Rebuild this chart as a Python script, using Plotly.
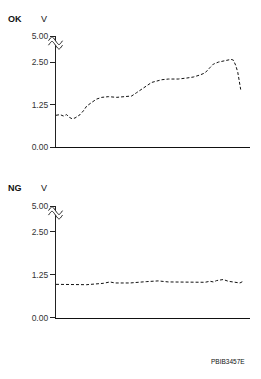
import plotly.graph_objects as go

W, H = 261, 379

# ---- data (time in % of sweep, voltage in V) ----
ok_t = [0, 2.1, 3.8, 5.5, 6.9, 8.2, 9.8, 12.4, 14.1, 15.8, 18.4, 21.0, 23.6, 27.0,
        31.3, 36.4, 39.0, 41.6, 45.0, 47.8, 49.3, 51.9, 54.5, 57.9, 63.0, 67.4,
        70.8, 74.2, 76.8, 79.4, 81.1, 83.7, 87.1, 90.2, 91.4, 92.6, 93.7, 94.3, 95.2]
ok_v = [0.94, 0.96, 0.92, 0.96, 0.88, 0.84, 0.86, 0.96, 1.07, 1.21, 1.32, 1.42, 1.47, 1.49,
        1.47, 1.49, 1.51, 1.61, 1.74, 1.84, 1.91, 1.95, 1.99, 2.01, 2.01, 2.04,
        2.07, 2.13, 2.19, 2.35, 2.45, 2.51, 2.56, 2.59, 2.57, 2.42, 2.21, 1.96, 1.70]

ng_t = [0, 15.8, 24.4, 27.8, 30.4, 38.1, 46.8, 52.7, 57.9, 66.5, 76.8, 79.4, 81.1,
        82.8, 86.2, 88.8, 91.4, 93.1, 94.8, 96.5]
ng_v = [0.97, 0.96, 1.00, 1.04, 1.01, 1.01, 1.05, 1.07, 1.04, 1.03, 1.03, 1.06, 1.04,
        1.08, 1.11, 1.06, 1.03, 1.03, 1.01, 1.06]

tick_vals_top = [0, 1.25, 2.5, 3.276]
tick_vals_bot = [0, 1.25, 2.5, 3.24]
tick_text = ["0.00", "1.25", "2.50", "5.00"]

FONT = "Liberation Sans, Arial, sans-serif"

fig = go.Figure()
line = dict(color="#111", width=1, dash="3px,2px")
fig.add_trace(go.Scatter(x=ok_t, y=ok_v, mode="lines", line=line, xaxis="x", yaxis="y",
                         showlegend=False, hoverinfo="skip"))
fig.add_trace(go.Scatter(x=ng_t, y=ng_v, mode="lines", line=line, xaxis="x2", yaxis="y2",
                         showlegend=False, hoverinfo="skip"))

x0p, x1p = 56 / W, 250 / W

def py(px):
    return 1 - px / H

xcommon = dict(range=[0, 100], showline=True, linecolor="#111", linewidth=1,
               showgrid=False, zeroline=False, showticklabels=False, ticks="",
               domain=[x0p, x1p], fixedrange=True)
ycommon = dict(showline=True, linecolor="#222", linewidth=1.2, showgrid=False,
               zeroline=False, ticks="outside", ticklen=5, tickcolor="#222",
               tickwidth=1, ticktext=tick_text, tickmode="array",
               tickfont=dict(family=FONT, size=8.5, color="#333"),
               fixedrange=True)

fig.update_layout(
    width=W, height=H, margin=dict(l=0, r=0, t=0, b=0),
    paper_bgcolor="white", plot_bgcolor="white",
    xaxis=dict(**xcommon, anchor="y"),
    yaxis=dict(**ycommon, range=[0, 3.276], tickvals=tick_vals_top,
               domain=[py(146), py(32)], anchor="x"),
    xaxis2=dict(**xcommon, anchor="y2"),
    yaxis2=dict(**ycommon, range=[0, 3.24], tickvals=tick_vals_bot,
                domain=[py(321.2), py(206.7)], anchor="x2"),
)

def label(text, x, y, size, bold=False):
    fig.add_annotation(text=f"<b>{text}</b>" if bold else text, x=x / W, y=py(y),
                       xref="paper", yref="paper", showarrow=False,
                       font=dict(family=FONT, size=size, color="#111"),
                       xanchor="center", yanchor="middle")

label("OK", 15, 14.5, 9, True)
label("V", 44, 14.5, 9)
label("NG", 15, 187.5, 9, True)
label("V", 44, 187.5, 9)
fig.add_annotation(text="PBIB3457E", x=247 / W, y=py(366.5), xref="paper", yref="paper",
                   showarrow=False, xanchor="right", yanchor="middle",
                   font=dict(family=FONT, size=6.5, color="#111"))

# axis break marks
def brk(yc):
    ax = 55.5 / W
    dx = 7 / W
    g = 2.3 / H
    a = 2.6 / H
    fig.add_shape(type="rect", xref="paper", yref="paper", x0=ax - 1.5 / W, x1=ax + 1.5 / W,
                  y0=py(yc) - g, y1=py(yc) + g, fillcolor="white", line=dict(width=0),
                  layer="above")
    for off in (-g, g):
        yy = py(yc) + off
        path = (f"M {ax-dx},{yy} C {ax-dx/2},{yy+2*a} {ax-dx/2},{yy+2*a} {ax},{yy} "
                f"C {ax+dx/2},{yy-2*a} {ax+dx/2},{yy-2*a} {ax+dx},{yy}")
        fig.add_shape(type="path", path=path, xref="paper", yref="paper",
                      line=dict(color="#222", width=1), layer="above")

brk(39)
brk(213.5)

fig.write_html("out.html")
